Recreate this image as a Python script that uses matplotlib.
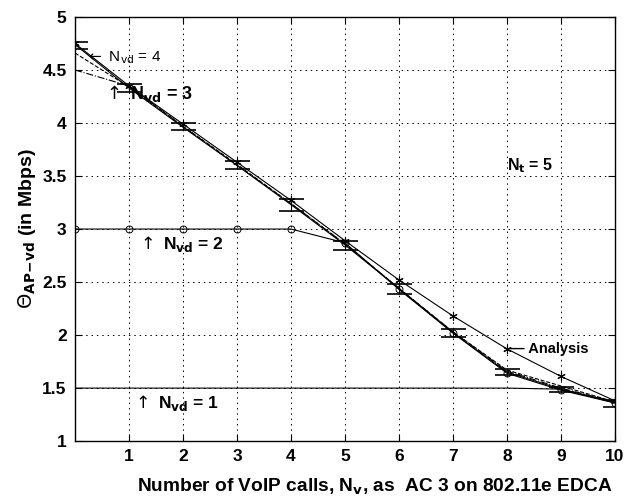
import matplotlib
matplotlib.use("Agg")
import matplotlib.pyplot as plt
import numpy as np

plt.rcParams['font.family'] = ['Liberation Sans', 'DejaVu Sans']

x = [0, 1, 2, 3, 4, 5, 6, 7, 8, 9, 10]
analysis_nvd5 = [4.75, 4.35, 3.99, 3.63, 3.27, 2.89, 2.52, 2.18, 1.87, 1.61, 1.38]
sim_nvd5 = [4.74, 4.33, 3.96, 3.60, 3.23, 2.85, 2.44, 2.02, 1.65, 1.49, 1.36]
sim_nvd5_lo = [4.70, 4.29, 3.93, 3.57, 3.17, 2.80, 2.39, 1.98, 1.62, 1.46, 1.32]
sim_nvd5_hi = [4.76, 4.37, 4.00, 3.64, 3.28, 2.89, 2.48, 2.06, 1.68, 1.51, 1.39]
nvd2 = [3.0, 3.0, 3.0, 3.0, 3.0, 2.87, 2.43, 2.02, 1.64, 1.48, 1.36]
nvd1 = [1.5, 1.5, 1.5, 1.5, 1.5, 1.5, 1.5, 1.5, 1.5, 1.49, 1.37]
nvd3 = [4.50, 4.35, 3.97, 3.60, 3.24, 2.86, 2.44, 2.03, 1.66, 1.50, 1.37]
nvd4 = [4.66, 4.34, 3.97, 3.61, 3.24, 2.86, 2.44, 2.03, 1.67, 1.52, 1.37]

xticks = [1, 2, 3, 4, 5, 6, 7, 8, 9, 10]
yticks = [1, 1.5, 2, 2.5, 3, 3.5, 4, 4.5, 5]
ytick_labels = ['1', '1.5', '2', '2.5', '3', '3.5', '4', '4.5', '5']

fig = plt.figure(figsize=(6.25, 4.99), dpi=100)
ax = fig.add_axes([0.12, 0.116, 0.864, 0.85])

lw = 0.8
ax.plot(x, analysis_nvd5, color='black', lw=lw, marker=(6, 2, 0), ms=6, mew=0.8)
ax.plot(x, sim_nvd5, color='black', lw=lw)
yerr = [np.array(sim_nvd5) - np.array(sim_nvd5_lo), np.array(sim_nvd5_hi) - np.array(sim_nvd5)]
ax.errorbar(x, sim_nvd5, yerr=yerr, fmt='none', ecolor='black', elinewidth=0.8,
            capsize=9, capthick=1.2)
ax.plot(x, nvd2, color='black', lw=lw, marker='o', ms=5, mfc='none', mew=0.7)
ax.plot(x, nvd1, color='black', lw=lw)
ax.plot(x, nvd3, color='black', lw=lw, ls='-.')
ax.plot(x, nvd4, color='black', lw=lw, ls='--')

ax.set_xlim(0, 10)
ax.set_ylim(1, 5)
ax.set_xticks(xticks)
ax.set_yticks(yticks)
ax.set_yticklabels(ytick_labels)
ax.grid(True, color='black', ls=(0, (1.5, 4)), lw=0.7)
ax.tick_params(direction='in', top=True, right=True, length=5, width=0.8,
               labelsize=12.5)
ax.tick_params(axis='y', pad=6)
ax.tick_params(axis='x', pad=6)
for lab in ax.get_xticklabels() + ax.get_yticklabels():
    lab.set_fontweight('bold')
for s in ax.spines.values():
    s.set_linewidth(1.0)

ax.set_xlabel(r'Number of VoIP calls, N$_{\mathbf{v}}$, as  AC 3 on 802.11e EDCA',
              fontsize=13.8, fontweight='bold')
ax.xaxis.set_label_coords(0.555, -0.085)
ax.set_ylabel(r'$\Theta_{\mathbf{AP\!-\!vd}}$ (in Mbps)', fontsize=14,
              fontweight='bold', labelpad=3)

ax.text(0.2, 4.62, r'$\leftarrow$ N$_{\mathrm{vd}}$ = 4', fontsize=11, va='center')
ax.text(0.52, 4.28, r'$\uparrow$ N$_{\mathbf{vd}}$ = 3', fontsize=13, fontweight='bold', va='center')
ax.text(1.15, 2.86, r'$\uparrow$ N$_{\mathbf{vd}}$ = 2', fontsize=12.5, fontweight='bold', va='center')
ax.text(1.05, 1.36, r'$\uparrow$ N$_{\mathbf{vd}}$ = 1', fontsize=12.5, fontweight='bold', va='center')
ax.text(8.0, 3.6, r'N$_{\mathbf{t}}$ = 5', fontsize=11.5, fontweight='bold', va='center')
ax.text(8.05, 1.87, r'— Analysis', fontsize=10.5, fontweight='bold', va='center')

fig.savefig('out.png', dpi=100)
